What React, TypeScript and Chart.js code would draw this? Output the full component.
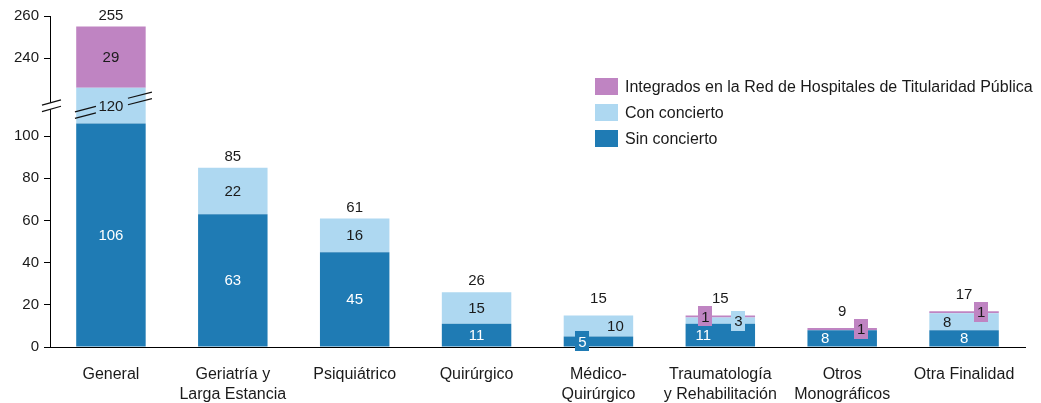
import React, { useEffect, useRef } from "react";
import { Chart, registerables } from "chart.js";

Chart.register(...registerables);

// ---------- data ----------
const categories: string[][] = [
  ["General"],
  ["Geriatría y", "Larga Estancia"],
  ["Psiquiátrico"],
  ["Quirúrgico"],
  ["Médico-", "Quirúrgico"],
  ["Traumatología", "y Rehabilitación"],
  ["Otros", "Monográficos"],
  ["Otra Finalidad"],
];
const sinConcierto = [106, 63, 45, 11, 5, 11, 8, 8];
const conConcierto = [120, 22, 16, 15, 10, 3, 0, 8];
const integrados = [29, 0, 0, 0, 0, 1, 1, 1];
const seriesNames = [
  "Sin concierto",
  "Con concierto",
  "Integrados en la Red de Hospitales de Titularidad Pública",
];
const yTickValues = [0, 20, 40, 60, 80, 100, 240, 260];
const BREAK_FROM = 123;
const BREAK_TO = 226;

// ---------- styles ----------
const COLORS = ["#1F7BB4", "#AED8F1", "#BF84C2"];
const TEXT_COLORS = ["#ffffff", "#1a1a1a", "#1a1a1a"];
const FONT = '"Liberation Sans", Arial, sans-serif';
const LABEL_TWEAKS: Record<string, { dx: number; box?: boolean }> = {
  "0-4": { dx: -16, box: true },
  "0-5": { dx: -17 },
  "0-6": { dx: -17 },
  "1-4": { dx: 17 },
  "1-5": { dx: 18, box: true },
  "1-7": { dx: -17 },
  "2-5": { dx: -15, box: true },
  "2-6": { dx: 19, box: true },
  "2-7": { dx: 17, box: true },
};
const TOTAL_DY = [-12, -12, -12, -12, -18, -18, -17, -17];

const GAP = BREAK_TO - BREAK_FROM;
const toDisp = (v: number) => (v <= BREAK_FROM ? v : v >= BREAK_TO ? v - GAP : BREAK_FROM);
const fromDisp = (v: number) => (v > BREAK_FROM ? v + GAP : v);

const realSeries = [sinConcierto, conConcierto, integrados];
// display segments built from cumulative real values through the broken-axis transform
const dispSeries = realSeries.map((_, s) =>
  categories.map((__, i) => {
    let lo = 0;
    for (let k = 0; k < s; k++) lo += realSeries[k][i];
    const hi = lo + realSeries[s][i];
    return toDisp(hi) - toDisp(lo);
  })
);
const totals = categories.map((_, i) => sinConcierto[i] + conConcierto[i] + integrados[i]);

const overlayPlugin = {
  id: "overlay",
  afterDatasetsDraw(chart: any) {
    const ctx = chart.ctx as CanvasRenderingContext2D;
    ctx.save();

    // ---- break marks on General bar ----
    const bar0 = chart.getDatasetMeta(1).data[0];
    const cy = (bar0.y + bar0.base) / 2;
    const slope = -0.256;
    const bx = bar0.x + 1;
    const drawSeg = (x1: number, x2: number, off: number) => {
      ctx.beginPath();
      ctx.moveTo(x1, cy + (x1 - bx) * slope + off);
      ctx.lineTo(x2, cy + (x2 - bx) * slope + off);
      ctx.stroke();
    };
    ctx.strokeStyle = "#111";
    ctx.lineWidth = 1.2;
    for (const off of [-3.25, 3.25]) {
      drawSeg(bar0.x - 36, bar0.x - 15, off);
      drawSeg(bar0.x + 17, bar0.x + 41, off);
    }
    // ---- break marks on axis ----
    const ax = chart.chartArea.left;
    const aSlope = -0.28;
    ctx.fillStyle = "#fff";
    ctx.beginPath();
    ctx.moveTo(ax - 8, cy + (-8 - 2) * aSlope - 3.2);
    ctx.lineTo(ax + 11, cy + (11 - 2) * aSlope - 3.2);
    ctx.lineTo(ax + 11, cy + (11 - 2) * aSlope + 3.2);
    ctx.lineTo(ax - 8, cy + (-8 - 2) * aSlope + 3.2);
    ctx.closePath();
    ctx.fill();
    for (const off of [-3.2, 3.2]) {
      ctx.beginPath();
      ctx.moveTo(ax - 8, cy + (-8 - 2) * aSlope + off);
      ctx.lineTo(ax + 11, cy + (11 - 2) * aSlope + off);
      ctx.stroke();
    }

    // ---- value labels ----
    ctx.font = `15px ${FONT}`;
    ctx.textAlign = "center";
    ctx.textBaseline = "middle";
    realSeries.forEach((vals, s) => {
      const meta = chart.getDatasetMeta(s);
      vals.forEach((v, i) => {
        if (!v) return;
        const el = meta.data[i];
        const tw = LABEL_TWEAKS[`${s}-${i}`] || { dx: 0 };
        const x = el.x + tw.dx;
        const yy = (el.y + el.base) / 2;
        const txt = String(v);
        if (tw.box) {
          const w = ctx.measureText(txt).width + 6;
          ctx.fillStyle = COLORS[s];
          ctx.fillRect(Math.round(x - w / 2), Math.round(yy - 10), Math.round(w), 20);
        }
        ctx.fillStyle = TEXT_COLORS[s];
        ctx.fillText(txt, x, yy + 1);
      });
    });
    // totals
    ctx.fillStyle = "#1a1a1a";
    const topMeta = chart.getDatasetMeta(2);
    totals.forEach((t, i) => {
      const el = topMeta.data[i];
      ctx.fillText(String(t), el.x, el.y + TOTAL_DY[i] + 1);
    });

    // ---- legend ----
    ctx.font = `16px ${FONT}`;
    const legendOrder = [2, 1, 0];
    const rowY = [86.5, 112.5, 138.5];
    legendOrder.forEach((s, r) => {
      ctx.fillStyle = COLORS[s];
      ctx.fillRect(595, rowY[r] - 8.5, 23, 17);
      ctx.fillStyle = "#1a1a1a";
      ctx.textAlign = "left";
      ctx.fillText(seriesNames[s], 625, rowY[r] + 1);
    });
    ctx.restore();
  },
};

export default function App() {
  const ref = useRef<HTMLCanvasElement | null>(null);
  useEffect(() => {
    if (!ref.current) return;
    Chart.defaults.font.family = FONT;
    const chart = new Chart(ref.current, {
      type: "bar",
      data: {
        labels: categories,
        datasets: dispSeries.map((d, s) => ({
          label: seriesNames[s],
          data: d,
          backgroundColor: COLORS[s],
          borderWidth: 0,
          barPercentage: 0.57,
          categoryPercentage: 1,
        })),
      },
      options: {
        responsive: false,
        animation: false,
        layout: { padding: { top: 16, right: 16, left: 0, bottom: 0 } },
        plugins: { legend: { display: false }, tooltip: { enabled: false } },
        scales: {
          x: {
            stacked: true,
            grid: { display: false, drawTicks: false },
            border: { display: true, color: "#000", width: 1 },
            ticks: {
              color: "#1a1a1a",
              font: { size: 16, lineHeight: 1.25 },
              padding: 18,
              maxRotation: 0,
              autoSkip: false,
            },
            afterFit: (scale: any) => {
              scale.height = 56;
            },
          },
          y: {
            stacked: true,
            min: 0,
            max: toDisp(260),
            grid: { drawOnChartArea: false, drawTicks: true, tickLength: 6, color: "#000" },
            border: { display: true, color: "#000", width: 1 },
            ticks: {
              color: "#1a1a1a",
              font: { size: 15 },
              padding: 5,
              callback: (v: any) => String(Math.round(fromDisp(Number(v)))),
            },
            afterBuildTicks: (scale: any) => {
              scale.ticks = yTickValues.map((v) => ({ value: toDisp(v) }));
            },
            afterFit: (scale: any) => {
              scale.width = 50;
            },
          },
        },
      },
      plugins: [overlayPlugin],
    });
    return () => chart.destroy();
  }, []);
  return (
    <div style={{ position: "absolute", left: 0, top: 0, width: 1041, height: 403 }}>
      <canvas ref={ref} width={1041} height={403} style={{ display: "block" }} />
    </div>
  );
}
